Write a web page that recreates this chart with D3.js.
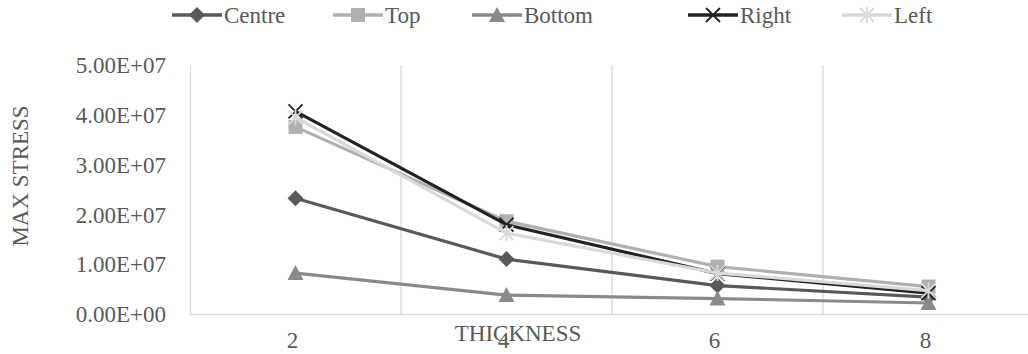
<!DOCTYPE html>
<html><head><meta charset="utf-8">
<script src="https://cdn.jsdelivr.net/npm/d3@7"></script>
<style>
body{margin:0;background:#fff;}
text{font-family:"Liberation Serif","Times New Roman",serif;fill:#595959;}
</style>
</head><body>
<svg id="c" width="1028" height="354"></svg>
<script>
// ---- data ----
const categories = ["2", "4", "6", "8"];
const seriesNames = ["Centre", "Top", "Bottom", "Right", "Left"];
const centreVals = [2.33e7, 1.11e7, 5.8e6, 3.5e6];
const topVals    = [3.76e7, 1.87e7, 9.6e6, 5.6e6];
const bottomVals = [8.3e6, 3.9e6, 3.2e6, 2.3e6];
const rightVals  = [4.07e7, 1.80e7, 8.2e6, 4.3e6];
const leftVals   = [3.95e7, 1.63e7, 8.3e6, 4.8e6];
const yTicks = [0, 1e7, 2e7, 3e7, 4e7, 5e7];
const xTitle = "THICKNESS";
const yTitle = "MAX  STRESS";

// ---- styles ----
const colors = {Centre:"#595959", Top:"#b0b0b0", Bottom:"#8a8a8a", Right:"#222222", Left:"#d9d9d9"};
const markers = {Centre:"diamond", Top:"square", Bottom:"triangle", Right:"x", Left:"star"};
const series = [
  {name:"Centre", values:centreVals},
  {name:"Top", values:topVals},
  {name:"Bottom", values:bottomVals},
  {name:"Right", values:rightVals},
  {name:"Left", values:leftVals}
];
const FS = "23px";

const svg = d3.select("#c");
const plot = {left:190, right:1034, top:65, bottom:314.5};
const x = d3.scaleBand().domain(categories).range([plot.left, plot.right]);
const y = d3.scaleLinear().domain([0, 5e7]).range([plot.bottom, plot.top]);

function fmtE(v){
  if (v === 0) return "0.00E+00";
  const e = Math.floor(Math.log10(Math.abs(v)));
  const m = v / Math.pow(10, e);
  return m.toFixed(2) + "E" + (e >= 0 ? "+" : "-") + String(Math.abs(e)).padStart(2, "0");
}

// gridlines (vertical, category boundaries)
const bounds = categories.slice(1).map(c => x(c));
svg.append("g").selectAll("line").data(bounds).join("line")
  .attr("x1", d => d).attr("x2", d => d)
  .attr("y1", plot.top).attr("y2", plot.bottom)
  .attr("stroke", "#d9d9d9").attr("stroke-width", 1.3);

// y axis
const yAxis = svg.append("g").attr("transform", `translate(${plot.left},0)`)
  .call(d3.axisLeft(y).tickValues(yTicks).tickFormat(fmtE).tickSize(0).tickPadding(24));
yAxis.select(".domain").attr("stroke", "#d9d9d9").attr("stroke-width", 1.3);
yAxis.selectAll("text").style("font-size", FS).attr("fill", "#595959")
  .style("font-family", '"Liberation Serif", serif');

// x axis
const xAxis = svg.append("g").attr("transform", `translate(0,${plot.bottom})`)
  .call(d3.axisBottom(x).tickSize(0).tickPadding(17));
xAxis.select(".domain").remove();
svg.append("line").attr("x1", plot.left).attr("x2", 1028)
  .attr("y1", plot.bottom).attr("y2", plot.bottom)
  .attr("stroke", "#d9d9d9").attr("stroke-width", 1.3);
xAxis.selectAll("text").style("font-size", FS).attr("fill", "#595959")
  .style("font-family", '"Liberation Serif", serif').attr("dx", -3);

// axis titles
svg.append("text").attr("x", 518).attr("y", 341).attr("text-anchor", "middle")
  .style("font-size", FS).text(xTitle);
svg.append("text").attr("transform", "translate(28,176) rotate(-90)")
  .attr("text-anchor", "middle").style("font-size", FS).text(yTitle);

// marker drawing
function drawMarker(g, type, cx, cy, color){
  if (type === "diamond"){
    g.append("path").attr("d", `M${cx},${cy-8}L${cx+8},${cy}L${cx},${cy+8}L${cx-8},${cy}Z`).attr("fill", color);
  } else if (type === "square"){
    g.append("rect").attr("x", cx-7).attr("y", cy-7).attr("width", 14).attr("height", 14).attr("fill", color);
  } else if (type === "triangle"){
    g.append("path").attr("d", `M${cx},${cy-8}L${cx+8},${cy+7}L${cx-8},${cy+7}Z`).attr("fill", color);
  } else if (type === "x"){
    g.append("path").attr("d", `M${cx-7},${cy-7}L${cx+7},${cy+7}M${cx+7},${cy-7}L${cx-7},${cy+7}`)
      .attr("stroke", color).attr("stroke-width", 1.8).attr("fill", "none");
  } else if (type === "star"){
    g.append("path").attr("d", `M${cx-7},${cy-7}L${cx+7},${cy+7}M${cx+7},${cy-7}L${cx-7},${cy+7}M${cx},${cy-8}L${cx},${cy+8}`)
      .attr("stroke", color).attr("stroke-width", 1.8).attr("fill", "none");
  }
}

const cx = c => x(c) + x.bandwidth()/2;
const line = d3.line().x((d, i) => cx(categories[i])).y(d => y(d));

series.forEach(s => {
  const g = svg.append("g");
  g.append("path").datum(s.values).attr("d", line)
    .attr("fill", "none").attr("stroke", colors[s.name]).attr("stroke-width", 3.2)
    .attr("stroke-linejoin", "round");
  s.values.forEach((v, i) => drawMarker(g, markers[s.name], cx(categories[i]), y(v), colors[s.name]));
});

// legend
const legendMarkerX = [197, 358, 497, 713, 867];
const legendY = 15;
seriesNames.forEach((n, i) => {
  const g = svg.append("g");
  const mx = legendMarkerX[i];
  g.append("line").attr("x1", mx-25).attr("x2", mx+25).attr("y1", legendY).attr("y2", legendY)
    .attr("stroke", colors[n]).attr("stroke-width", 3.5);
  drawMarker(g, markers[n], mx, legendY, colors[n]);
  g.append("text").attr("x", mx+27).attr("y", legendY+7.5).style("font-size", FS).text(n);
});
</script>
</body></html>
